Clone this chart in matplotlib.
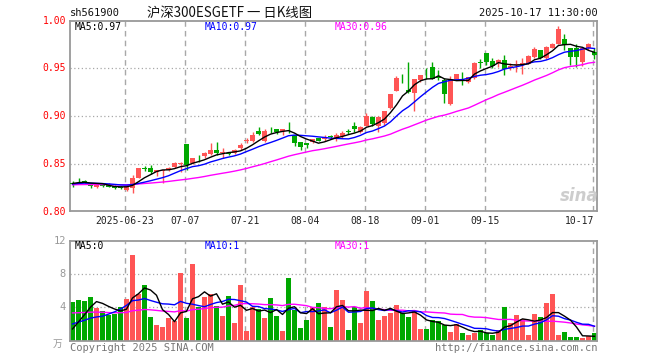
import matplotlib
matplotlib.use("Agg")
import matplotlib.pyplot as plt
import matplotlib.transforms as mtransforms
import numpy as np
import pandas as pd

plt.rcParams['font.family'] = ['DejaVu Sans Mono', 'Noto Sans CJK SC']

# ---------------- data ----------------
opens = [0.831, 0.835, 0.833, 0.829, 0.826, 0.828, 0.829, 0.827, 0.8258, 0.8237,
         0.825, 0.8354, 0.8460, 0.8458, 0.8423, 0.8435, 0.8440, 0.8468, 0.8503, 0.8711,
         0.8510, 0.8557, 0.8590, 0.8607, 0.8649, 0.8620, 0.8616, 0.8614, 0.8666, 0.8745,
         0.8740, 0.8850, 0.8746, 0.8860, 0.8864, 0.8847, 0.8860, 0.8805, 0.8729, 0.8718,
         0.8729, 0.8770, 0.8760, 0.8790, 0.8777, 0.8795, 0.8842, 0.8902, 0.8833, 0.8902,
         0.8996, 0.8902, 0.8927, 0.9083, 0.9264, 0.9388, 0.9274, 0.9239, 0.9378, 0.9502,
         0.9510, 0.9405, 0.9378, 0.9125, 0.9395, 0.9408, 0.9361, 0.9396, 0.9563, 0.9656,
         0.9576, 0.9552, 0.9593, 0.9500, 0.9538, 0.9545, 0.9551, 0.9621, 0.9690, 0.9604,
         0.9718, 0.9760, 0.9812, 0.9708, 0.9708, 0.9569, 0.9715, 0.9673]
highs = [0.833, 0.836, 0.834, 0.830, 0.829, 0.830, 0.830, 0.828, 0.827, 0.828,
         0.8388, 0.8465, 0.848, 0.8492, 0.8445, 0.8445, 0.847, 0.852, 0.8525, 0.8715,
         0.857, 0.8597, 0.8631, 0.8720, 0.8736, 0.8666, 0.863, 0.8655, 0.8725, 0.8770,
         0.8833, 0.8892, 0.8864, 0.8892, 0.8870, 0.8868, 0.8944, 0.8810, 0.8735, 0.8725,
         0.8765, 0.8775, 0.8805, 0.8805, 0.8822, 0.8847, 0.8868, 0.8944, 0.8895, 0.9038,
         0.9000, 0.9003, 0.9060, 0.9235, 0.9420, 0.9437, 0.9569, 0.9392, 0.9435, 0.9507,
         0.9569, 0.9482, 0.9400, 0.9420, 0.9447, 0.9465, 0.9410, 0.9565, 0.9597, 0.9660,
         0.9604, 0.9600, 0.9638, 0.9552, 0.9586, 0.9604, 0.9635, 0.9725, 0.9695, 0.9730,
         0.9765, 0.9940, 0.9864, 0.9715, 0.9760, 0.9720, 0.9767, 0.9708]
lows = [0.826, 0.832, 0.831, 0.825, 0.825, 0.826, 0.826, 0.824, 0.824, 0.822,
        0.820, 0.8354, 0.843, 0.8395, 0.838, 0.8302, 0.8435, 0.8465, 0.8423, 0.8440,
        0.850, 0.8527, 0.8562, 0.8600, 0.8597, 0.8569, 0.860, 0.8610, 0.8649, 0.8718,
        0.8730, 0.8805, 0.8736, 0.8830, 0.8820, 0.8805, 0.8830, 0.8690, 0.8649, 0.8666,
        0.8720, 0.8740, 0.8746, 0.8770, 0.8743, 0.8778, 0.8812, 0.8833, 0.8822, 0.8899,
        0.8902, 0.8840, 0.8909, 0.9075, 0.9260, 0.9350, 0.9248, 0.9055, 0.9360, 0.9395,
        0.9389, 0.9378, 0.9135, 0.9118, 0.9390, 0.9326, 0.9343, 0.9390, 0.9500, 0.9534,
        0.9500, 0.9517, 0.9430, 0.9482, 0.9465, 0.9447, 0.9545, 0.9604, 0.9600, 0.9600,
        0.9712, 0.9753, 0.9690, 0.9534, 0.9517, 0.9524, 0.9690, 0.9597]
closes = [0.829, 0.8345, 0.832, 0.827, 0.828, 0.8277, 0.8265, 0.825, 0.8255, 0.8277,
          0.8354, 0.8458, 0.8455, 0.8416, 0.8440, 0.8437, 0.8465, 0.8517, 0.8517, 0.8492,
          0.8562, 0.8552, 0.8614, 0.8649, 0.8614, 0.8624, 0.8610, 0.8649, 0.8704, 0.8750,
          0.8805, 0.8815, 0.8847, 0.8855, 0.8835, 0.8864, 0.8857, 0.8718, 0.8677, 0.8701,
          0.8760, 0.8746, 0.8787, 0.8788, 0.8805, 0.8829, 0.8840, 0.8868, 0.8892, 0.9003,
          0.8916, 0.8996, 0.9055, 0.9229, 0.9402, 0.9385, 0.9250, 0.9388, 0.9430, 0.9500,
          0.9395, 0.9402, 0.9229, 0.9395, 0.9441, 0.9406, 0.9406, 0.9559, 0.9560, 0.9569,
          0.9524, 0.9593, 0.9489, 0.9524, 0.9545, 0.9552, 0.9631, 0.9701, 0.9604, 0.9725,
          0.9760, 0.9909, 0.9742, 0.9621, 0.9621, 0.9708, 0.9750, 0.9639]
volumes = [4.63, 4.87, 4.79, 5.23, 3.95, 3.55, 3.07, 3.23, 4.03, 5.03,
           10.27, 5.63, 6.67, 2.83, 1.87, 1.63, 2.75, 2.35, 8.11, 2.75,
           9.19, 4.03, 5.23, 5.55, 4.15, 2.95, 5.35, 2.11, 6.67, 1.15,
           4.07, 3.75, 2.75, 5.15, 2.95, 1.15, 7.47, 3.67, 1.51, 2.47,
           4.07, 4.47, 4.07, 1.67, 6.07, 4.87, 1.27, 4.03, 2.11, 5.95,
           4.75, 2.47, 2.95, 3.27, 4.27, 3.35, 2.83, 3.51, 1.39, 1.39,
           2.43, 2.31, 1.87, 1.05, 1.95, 0.90, 0.67, 0.90, 1.25, 0.95,
           0.70, 1.25, 4.00, 2.13, 3.10, 2.60, 0.70, 3.20, 2.83, 4.55,
           5.60, 0.67, 1.07, 0.43, 0.43, 0.35, 0.55, 0.87]
# values before the visible window (needed for the moving averages)
prior_closes = [0.828, 0.829, 0.828, 0.827, 0.828, 0.829, 0.829, 0.828, 0.827, 0.828,
                0.828, 0.829, 0.829, 0.828, 0.828, 0.827, 0.828, 0.829, 0.828, 0.828,
                0.829, 0.829, 0.828, 0.829, 0.830, 0.830, 0.830, 0.831, 0.830]
prior_volumes = [4.2, 3.8, 4.1, 3.9, 4.0, 4.3, 3.7, 4.0, 4.1, 3.9,
                 4.0, 3.8, 4.2, 4.0, 3.9, 4.1, 4.0, 3.8, 4.2, 4.0,
                 2.5, 2.7, 2.6, 2.6, 2.6, 0.6, 0.5, 0.7, 0.6]
tick_labels = ["2025-06-23", "07-07", "07-21", "08-04", "08-18", "09-01", "09-15", "10-17"]
tick_index = [9, 19, 29, 39, 49, 59, 69, 87]
price_ticks = [1.00, 0.95, 0.90, 0.85, 0.80]
volume_ticks = [12, 8, 4]
code = "sh561900"
title = "沪深300ESGETF 一 日K线图"
stamp = "2025-10-17 11:30:00"

# ---------------- derived ----------------
n = len(closes)
xs = np.arange(n)
o = np.array(opens); h = np.array(highs); l = np.array(lows); c = np.array(closes)
v = np.array(volumes)
allc = pd.Series(prior_closes + closes)
allv = pd.Series(prior_volumes + volumes)
k = len(prior_closes)
ma = {w: allc.rolling(w).mean().values[k:] for w in (5, 10, 30)}
vma = {w: allv.rolling(w).mean().values[k:] for w in (5, 10, 30)}

RED = '#ff5555'
GREEN = '#00a800'
up = c >= o
cols = np.where(up, RED, GREEN)
GRID = '#a8a8a8'
SPINE = '#999999'

fig = plt.figure(figsize=(6.6, 3.6), dpi=100)
W, H = 660.0, 360.0
ax = fig.add_axes([70 / W, 1 - 211 / H, 527 / W, 190.5 / H])
axv = fig.add_axes([70 / W, 1 - 340.7 / H, 527 / W, 100 / H])
xlim = (-0.4167, n - 1 + 0.4167)

for a in (ax, axv):
    a.set_xlim(*xlim)
    for s in a.spines.values():
        s.set_color(SPINE)
        s.set_linewidth(1.3)
    a.set_xticks([])
    a.set_yticks([])
    for t in tick_index:
        a.axvline(t - 0.3, color=GRID, lw=1.0, ls=(0, (4, 3)), zorder=0)

ax.set_ylim(0.8013, 1.0)
axv.set_ylim(0, 12)
for p in price_ticks[1:-1]:
    ax.axhline(p, color=GRID, lw=0.9, ls=(0, (1, 2)), zorder=0)
for q in volume_ticks[1:]:
    axv.axhline(q, color=GRID, lw=0.9, ls=(0, (1, 2)), zorder=0)

# candles
bw = 0.8
ax.vlines(xs, l, h, colors=cols, lw=1.0, zorder=2)
body_lo = np.minimum(o, c)
body_h = np.maximum(np.abs(c - o), 0.0006)
ax.bar(xs, body_h, bottom=body_lo, width=bw, color=cols, linewidth=0, zorder=3)

ax.plot(xs, ma[30], color='#ff00ff', lw=1.0, zorder=4)
ax.plot(xs, ma[10], color='#0000ff', lw=1.0, zorder=5)
ax.plot(xs, ma[5], color='#000000', lw=1.0, zorder=6)

# volume
axv.bar(xs, v, width=bw, color=cols, linewidth=0, zorder=2)
axv.plot(xs, vma[30], color='#ff00ff', lw=1.0, zorder=4)
axv.plot(xs, vma[10], color='#0000ff', lw=1.0, zorder=5)
axv.plot(xs, vma[5], color='#000000', lw=1.0, zorder=6)

# y tick labels
tr = mtransforms.blended_transform_factory(fig.transFigure, ax.transData)
for p in price_ticks:
    ax.text(66 / W, p, f"{p:.2f}", transform=tr, ha='right', va='center',
            fontsize=7, color='#ff0000')
trv = mtransforms.blended_transform_factory(fig.transFigure, axv.transData)
for q in volume_ticks:
    axv.text(66 / W, q, f"{q}", transform=trv, ha='right', va='center',
             fontsize=7.5, color='#999999')
fig.text(58 / W, 1 - 344 / H, "万", ha='center', va='center', fontsize=7,
         color='#999999', family=['Noto Sans CJK SC'])

# x tick labels
trx = mtransforms.blended_transform_factory(ax.transData, fig.transFigure)
for t, lab in zip(tick_index, tick_labels):
    if t == tick_index[-1]:
        ax.text(t - 0.1, 1 - 221 / H, lab, transform=trx, ha='right', va='center',
                fontsize=7, color='#222222')
    else:
        ax.text(t - 0.3, 1 - 221 / H, lab, transform=trx, ha='center', va='center',
                fontsize=7, color='#222222')

# header
fig.text(70 / W, 1 - 13 / H, code, ha='left', va='center', fontsize=7.5, color='#111111')
fig.text(230 / W, 1 - 13 / H, title, ha='center', va='center', fontsize=9.6,
         color='#111111', family=['Noto Sans CJK SC'])
fig.text(598 / W, 1 - 13 / H, stamp, ha='right', va='center', fontsize=7.5, color='#111111')

# MA labels
fig.text(75 / W, 1 - 27 / H, f"MA5:{ma[5][-1]:.2f}", ha='left', va='center', fontsize=7, color='#000000')
fig.text(205 / W, 1 - 27 / H, f"MA10:{ma[10][-1]:.2f}", ha='left', va='center', fontsize=7, color='#0000ff')
fig.text(335 / W, 1 - 27 / H, f"MA30:{ma[30][-1]:.2f}", ha='left', va='center', fontsize=7, color='#ff00ff')
fig.text(75 / W, 1 - 246 / H, f"MA5:{int(vma[5][-1])}", ha='left', va='center', fontsize=7, color='#000000')
fig.text(205 / W, 1 - 246 / H, f"MA10:{int(vma[10][-1])}", ha='left', va='center', fontsize=7, color='#0000ff')
fig.text(335 / W, 1 - 246 / H, f"MA30:{int(vma[30][-1])}", ha='left', va='center', fontsize=7, color='#ff00ff')

# footer
fig.text(70 / W, 1 - 348 / H, "Copyright 2025 SINA.COM", ha='left', va='center', fontsize=7.5, color='#777777')
fig.text(597 / W, 1 - 348 / H, "http://finance.sina.com.cn", ha='right', va='center', fontsize=7.5, color='#777777')

# watermark
fig.text(579 / W, 1 - 196 / H, "sina", ha='center', va='center', fontsize=12, color='#c8c8c8',
         style='italic', weight='bold', family=['DejaVu Sans'], alpha=0.9)

fig.savefig("out.png", dpi=100)
